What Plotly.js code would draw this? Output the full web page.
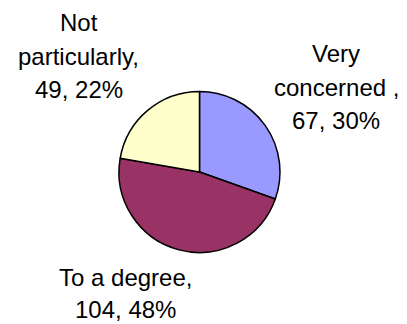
<!DOCTYPE html>
<html>
<head>
<meta charset="utf-8">
<script src="https://cdn.plot.ly/plotly-3.0.1.min.js"></script>
<style>html,body{margin:0;padding:0;background:#fff;}#chart{width:407px;height:324px;}</style>
</head>
<body>
<div id="chart"></div>
<script>
// Data
const categories = ["Very concerned", "To a degree", "Not particularly"];
const counts = [67, 104, 49];
const percents = [30, 48, 22];
// label lines as shown on chart
const labelLines = [
  ["Very", "concerned ,", counts[0] + ", " + percents[0] + "%"],
  ["To a degree,", counts[1] + ", " + percents[1] + "%"],
  ["Not", "particularly,", counts[2] + ", " + percents[2] + "%"]
];
const colors = ["#9999FF", "#993366", "#FFFFCC"];

const W = 407, H = 324;
// label block placement (pixels): center x and center y of each line
const labelPos = [
  {x: 336, ys: [54, 87, 120]},
  {x: 125, ys: [277.5, 309.5]},
  {x: 78.5, ys: [22.5, 56, 89.5]}
];

const annotations = [];
labelLines.forEach((lines, i) => {
  lines.forEach((t, j) => {
    annotations.push({
      text: t,
      xref: 'paper', yref: 'paper',
      x: labelPos[i].x / W, y: 1 - labelPos[i].ys[j] / H,
      xanchor: 'center', yanchor: 'middle',
      showarrow: false, borderpad: 0,
      font: {family: '"Liberation Sans", Arial, sans-serif', size: 24, color: '#000'}
    });
  });
});

const cx = 199.5, cy = 172, r = 80.5;
const trace = {
  type: 'pie',
  labels: categories,
  values: counts,
  sort: false,
  direction: 'clockwise',
  rotation: 0,
  textinfo: 'none',
  hoverinfo: 'label+value+percent',
  marker: {colors: colors, line: {color: '#000', width: 1.5}},
  domain: {x: [(cx - r) / W, (cx + r) / W], y: [(H - cy - r) / H, (H - cy + r) / H]}
};

Plotly.newPlot('chart', [trace], {
  width: W, height: H,
  margin: {l: 0, r: 0, t: 0, b: 0},
  showlegend: false,
  paper_bgcolor: '#fff',
  annotations: annotations
}, {staticPlot: true, displayModeBar: false});
</script>
</body>
</html>
